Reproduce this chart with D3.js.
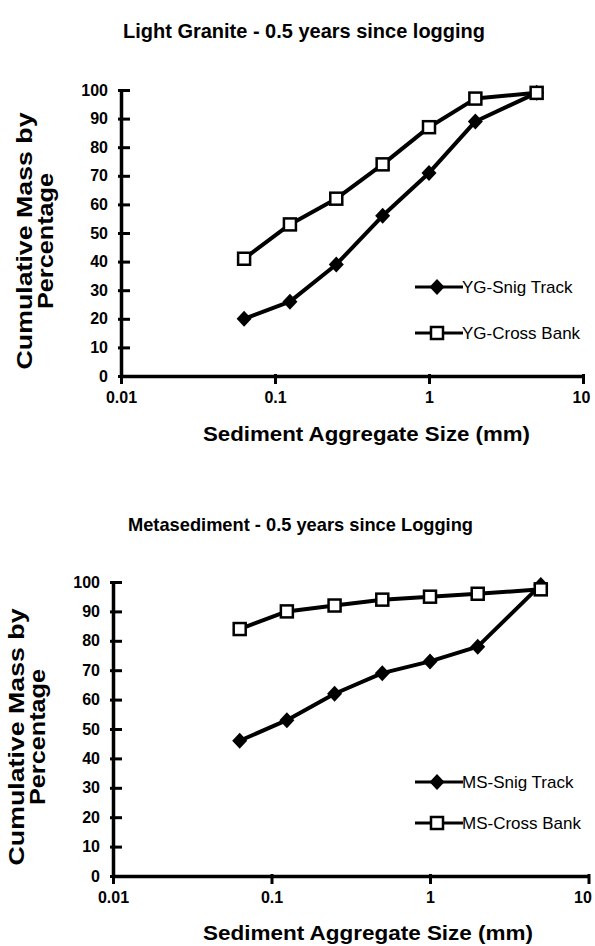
<!DOCTYPE html>
<html>
<head>
<meta charset="utf-8">
<script src="https://cdn.jsdelivr.net/npm/d3@7"></script>
<style>
  html, body { margin: 0; padding: 0; background: #fff; }
  svg { display: block; font-family: "Liberation Sans", Arial, Helvetica, sans-serif; }
</style>
</head>
<body>
<svg id="fig" width="595" height="946"></svg>
<script>
// Sieve sizes (mm) shared by both panels
const sizes = [0.063, 0.125, 0.25, 0.5, 1, 2, 5];

// Light granite, 0.5 years since logging (cumulative mass %)
const ygSnig  = [20, 26, 39, 56, 71, 89, 99];
const ygCross = [41, 53, 62, 74, 87, 97, 99];

// Metasediment, 0.5 years since logging (cumulative mass %)
const msSnig  = [46, 53, 62, 69, 73, 78, 99];
const msCross = [84, 90, 92, 94, 95, 96, 97.5];

// Axis ticks
const xTicks = [0.01, 0.1, 1, 10];
const xTickLabels = ["0.01", "0.1", "1", "10"];
const yTicks = [0, 10, 20, 30, 40, 50, 60, 70, 80, 90, 100];

const svg = d3.select("#fig");

function panel(cfg) {
  const x = d3.scaleLog().domain([0.01, 10]).range([cfg.x0, cfg.x1]);
  const y = d3.scaleLinear().domain([0, 100]).range([cfg.y0, cfg.y1]);
  const g = svg.append("g");

  // Title
  g.append("text")
    .attr("x", cfg.titleX).attr("y", cfg.titleY)
    .attr("font-size", cfg.titleSize).attr("font-weight", "bold")
    .attr("textLength", cfg.titleLen).attr("lengthAdjust", "spacingAndGlyphs")
    .text(cfg.title);

  // Y axis
  const ya = g.append("g").attr("transform", `translate(${cfg.x0},0)`)
    .call(d3.axisLeft(y).tickValues(yTicks).tickSizeInner(-9).tickSizeOuter(0).tickPadding(13));
  // X axis
  const xa = g.append("g").attr("transform", `translate(0,${cfg.y0})`)
    .call(d3.axisBottom(x).tickValues(xTicks).tickFormat((d, i) => xTickLabels[i])
      .tickSizeInner(8).tickSizeOuter(0).tickPadding(8));

  [ya, xa].forEach(a => {
    a.select(".domain").attr("stroke", "#000").attr("stroke-width", 3.5);
    a.selectAll(".tick line").attr("stroke", "#000").attr("stroke-width", 3);
    a.selectAll(".tick text").attr("fill", "#000")
      .attr("font-size", 16).attr("font-weight", "bold")
      .attr("font-family", "'Liberation Sans', Arial, sans-serif");
  });
  ya.selectAll(".tick line").attr("x1", -3);
  xa.selectAll(".tick line").attr("y1", -2);
  // keep the last x label inside the page
  xa.selectAll(".tick text").filter(d => d === 10).attr("dx", cfg.lastDx);

  // Axis titles
  g.append("text")
    .attr("transform", `translate(${cfg.ytX1},${cfg.ytY}) rotate(-90)`)
    .attr("text-anchor", "middle").attr("font-size", 22).attr("font-weight", "bold")
    .attr("textLength", cfg.ytLen1).attr("lengthAdjust", "spacingAndGlyphs")
    .text("Cumulative Mass by");
  g.append("text")
    .attr("transform", `translate(${cfg.ytX2},${cfg.ytY}) rotate(-90)`)
    .attr("text-anchor", "middle").attr("font-size", 22).attr("font-weight", "bold")
    .attr("textLength", cfg.ytLen2).attr("lengthAdjust", "spacingAndGlyphs")
    .text("Percentage");
  g.append("text")
    .attr("x", cfg.xtX).attr("y", cfg.xtY)
    .attr("font-size", 21).attr("font-weight", "bold")
    .attr("textLength", cfg.xtLen).attr("lengthAdjust", "spacingAndGlyphs")
    .text("Sediment Aggregate Size (mm)");

  const line = d3.line().x(d => x(d[0])).y(d => y(d[1]));
  const diamond = "M0,-8L7.5,0L0,8L-7.5,0Z";

  function series(vals, kind) {
    const pts = sizes.map((s, i) => [s, vals[i]]);
    g.append("path").datum(pts)
      .attr("d", line).attr("fill", "none").attr("stroke", "#000")
      .attr("stroke-width", 4).attr("stroke-linejoin", "round");
    if (kind === "diamond") {
      g.selectAll(null).data(pts).enter().append("path")
        .attr("d", diamond)
        .attr("transform", d => `translate(${x(d[0])},${y(d[1])})`)
        .attr("fill", "#000");
    } else {
      g.selectAll(null).data(pts).enter().append("rect")
        .attr("x", d => x(d[0]) - 6).attr("y", d => y(d[1]) - 6)
        .attr("width", 12).attr("height", 12)
        .attr("fill", "#fff").attr("stroke", "#000").attr("stroke-width", 2.5);
    }
  }
  series(cfg.snig, "diamond");
  series(cfg.cross, "square");

  // Legend
  const lg = [
    { label: cfg.snigLabel, kind: "diamond", y: cfg.legY1 },
    { label: cfg.crossLabel, kind: "square", y: cfg.legY2 }
  ];
  lg.forEach(L => {
    g.append("line").attr("x1", 415).attr("x2", 463).attr("y1", L.y).attr("y2", L.y)
      .attr("stroke", "#000").attr("stroke-width", 3);
    if (L.kind === "diamond") {
      g.append("path").attr("d", diamond).attr("transform", `translate(437,${L.y})`).attr("fill", "#000");
    } else {
      g.append("rect").attr("x", 431).attr("y", L.y - 6).attr("width", 12).attr("height", 12)
        .attr("fill", "#fff").attr("stroke", "#000").attr("stroke-width", 2.5);
    }
    g.append("text").attr("x", 462).attr("y", L.y + 6)
      .attr("font-size", 17)
      .text(L.label);
  });
}

panel({
  title: "Light Granite - 0.5 years since logging",
  titleX: 123, titleY: 38, titleLen: 362, titleSize: 20,
  x0: 121, x1: 583, y0: 376, y1: 90, lastDx: -2,
  ytX1: 32, ytX2: 53, ytY: 241, ytLen1: 257, ytLen2: 136,
  xtX: 203, xtY: 441, xtLen: 327,
  snig: ygSnig, cross: ygCross,
  snigLabel: "YG-Snig Track", crossLabel: "YG-Cross Bank",
  legY1: 287, legY2: 333
});

panel({
  title: "Metasediment - 0.5 years since Logging",
  titleX: 128, titleY: 531, titleLen: 345, titleSize: 19,
  x0: 113, x1: 588.5, y0: 876, y1: 582, lastDx: -6,
  ytX1: 24, ytX2: 45, ytY: 737, ytLen1: 257, ytLen2: 136,
  xtX: 203, xtY: 940, xtLen: 330,
  snig: msSnig, cross: msCross,
  snigLabel: "MS-Snig Track", crossLabel: "MS-Cross Bank",
  legY1: 782, legY2: 823
});
</script>
</body>
</html>
